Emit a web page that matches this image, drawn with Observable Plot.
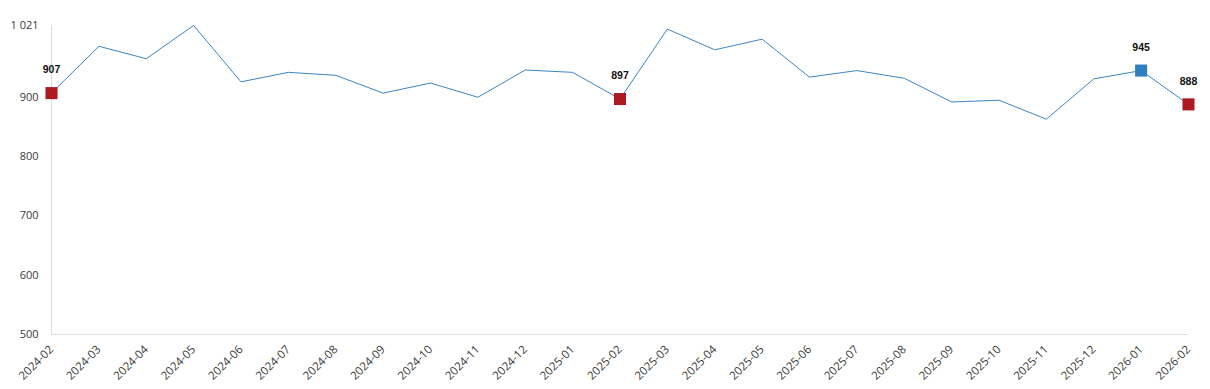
<!DOCTYPE html>
<html><head><meta charset="utf-8">
<script src="https://cdn.jsdelivr.net/npm/d3@7"></script>
<script src="https://cdn.jsdelivr.net/npm/@observablehq/plot@0.6"></script>
<style>body{margin:0;background:#fff}</style>
</head><body><div id="chart"></div>
<script>
const months = ["2024-02","2024-03","2024-04","2024-05","2024-06","2024-07","2024-08","2024-09","2024-10","2024-11","2024-12","2025-01","2025-02","2025-03","2025-04","2025-05","2025-06","2025-07","2025-08","2025-09","2025-10","2025-11","2025-12","2026-01","2026-02"];
const values = [907, 986, 965, 1021, 926, 942, 937, 907, 924, 900, 946, 942, 897, 1015, 980, 998, 934, 945, 932, 892, 895, 863, 931, 945, 888];
const redMonths = ["2024-02","2025-02","2026-02"];
const blueMonths = ["2026-01"];
const yTicks = [500, 600, 700, 800, 900, 1021];

const data = months.map((m, i) => ({month: m, value: values[i]}));
const red = data.filter(d => redMonths.includes(d.month));
const blue = data.filter(d => blueMonths.includes(d.month));
const labeled = data.filter(d => redMonths.includes(d.month) || blueMonths.includes(d.month));
const loc = d3.formatLocale({decimal: ",", thousands: " ", grouping: [3], currency: ["", ""]});
const fmt = loc.format(",d");

const chart = Plot.plot({
  width: 1210, height: 389,
  marginLeft: 51, marginRight: 22, marginTop: 25, marginBottom: 55,
  style: {fontFamily: "Open Sans", fontSize: "10.5px", color: "#3a3a3a", background: "#fff"},
  x: {type: "point", domain: months, padding: 0, inset: 0, round: false, label: null},
  y: {domain: [500, 1021], label: null},
  marks: [
    Plot.axisX({tickSize: 0, tickPadding: 13, tickRotate: -45, fontSize: 11.5, label: null}),
    Plot.axisY({ticks: yTicks, tickFormat: fmt, tickSize: 0, tickPadding: 13, fontSize: 11, label: null}),
    Plot.ruleY([500], {stroke: "#ddd"}),
    Plot.ruleX([months[0]], {y1: 500, y2: 1021, stroke: "#ddd"}),
    Plot.line(data, {x: "month", y: "value", stroke: "#3a86c6", strokeWidth: 1}),
    Plot.dot(red, {x: "month", y: "value", symbol: "square", r: 6.8, fill: "#ae1a21"}),
    Plot.dot(blue, {x: "month", y: "value", symbol: "square", r: 6.8, fill: "#2f7fc1"}),
    Plot.text(labeled, {x: "month", y: "value", text: d => String(d.value), dy: -23, fontWeight: "bold", fontSize: 10.5, fill: "#111", fontFamily: "Liberation Sans"})
  ]
});
document.getElementById("chart").appendChild(chart);
</script>
</body></html>
